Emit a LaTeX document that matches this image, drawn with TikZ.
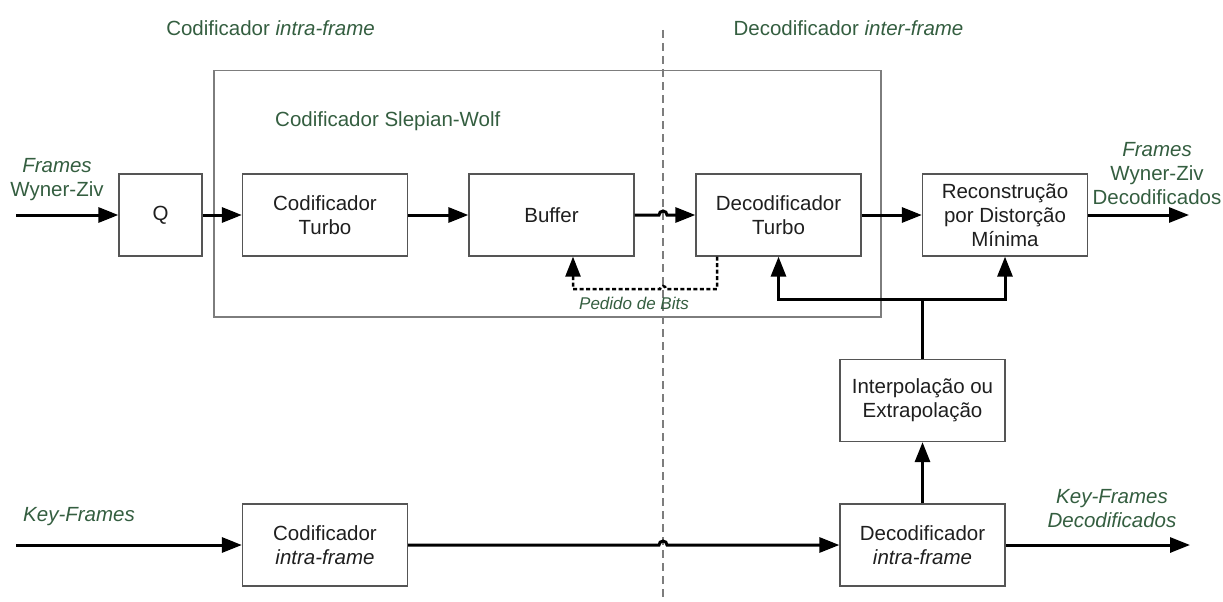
\documentclass[tikz,border=0pt]{standalone}
\usepackage{fontspec}
\setmainfont{Liberation Sans}
\usetikzlibrary{arrows.meta}
\definecolor{taggreen}{RGB}{52,94,64}
\definecolor{boxgray}{RGB}{85,85,85}
\definecolor{framegray}{RGB}{125,125,125}
\begin{document}
\begin{tikzpicture}[x=1pt,y=1pt,
  block/.style={draw=boxgray,line width=1.3pt,fill=white,minimum width=165pt,minimum height=82pt,inner sep=0pt,align=center,text=black!88,font=\fontsize{20.5}{24}\selectfont},
  swframe/.style={draw=framegray,line width=1.3pt,minimum width=667pt,minimum height=246.5pt,inner sep=0pt},
  tag/.style={inner sep=0pt,align=center,text=taggreen,font=\fontsize{20.5}{24}\selectfont},
  wire/.style={line width=3pt,black},
  feed/.style={wire,-{Triangle[length=20pt,width=15pt]}},
  request/.style={feed,line width=2.5pt,dash pattern=on 4pt off 2.5pt}
]
\useasboundingbox (0,0) rectangle (1223,-602);
\node [swframe] (SW) at (547.5,-193.75) {};
\draw [framegray,line width=1.3pt,dash pattern=on 8pt off 5pt] (663,-30) -- (663,-602);
\node [block,minimum width=83pt] (Q) at (160.5,-215) {Q};
\node [block] (CT) at (325,-215) {Codificador\\Turbo};
\node [block] (Buf) at (551.5,-215) {Buffer};
\node [block] (DT) at (778.5,-215) {Decodificador\\Turbo};
\node [block] (Rec) at (1005,-215) {Reconstrução\\por Distorção\\Mínima};
\node [block] (Interp) at (922.5,-400.5) {Interpolação ou\\Extrapolação};
\node [block] (CI) at (325,-545) {Codificador\\\textit{intra-frame}};
\node [block] (DI) at (922.5,-545) {Decodificador\\\textit{intra-frame}};
\node [tag] (tEnc) at (270.5,-28) {Codificador \textit{intra-frame}};
\node [tag] (tDec) at (848.5,-28) {Decodificador \textit{inter-frame}};
\node [tag,anchor=west] (tSW) at (275,-121) {Codificador Slepian-Wolf};
\node [tag] (tWZin) at (57,-180) {\textit{Frames}\\Wyner-Ziv};
\node [tag] (tWZout) at (1157,-174) {\textit{Frames}\\Wyner-Ziv\\Decodificados};
\node [tag,anchor=west] (tKin) at (23,-517) {\textit{Key-Frames}};
\node [tag] (tKout) at (1112,-509) {\textit{Key-Frames}\\\textit{Decodificados}};
\node [tag,font=\fontsize{17}{20}\selectfont] (tReq) at (634,-303) {\textit{Pedido de Bits}};
\coordinate (wzin) at (16,-215);
\coordinate (wzout) at (1189,-215);
\coordinate (kin) at (16,-545);
\coordinate (kout) at (1190,-545);
\coordinate (side) at (922.5,-299);
\draw [feed] (wzin) -- (Q);
\draw [feed] (Q) -- (CT);
\draw [feed] (CT) -- (Buf);
\draw [feed] (Buf.east) -- (659,-215) arc [start angle=180,end angle=0,radius=4] -- (DT.west);
\draw [feed] (DT) -- (Rec);
\draw [feed] (Rec) -- (wzout);
\draw [request] ([xshift=-61.5pt]DT.south) -- (717,-289) -- (666,-289) arc [start angle=0,end angle=180,radius=3] -- (573,-289) -- ([xshift=21.5pt]Buf.south);
\draw [wire] (Interp.north) -- (side);
\draw [feed] (side) -| (DT.south);
\draw [feed] (side) -| (Rec.south);
\draw [feed] (DI) -- (Interp);
\draw [feed] (kin) -- (CI);
\draw [feed] (CI.east) -- (659,-545) arc [start angle=180,end angle=0,radius=4] -- (DI.west);
\draw [feed] (DI) -- (kout);
\end{tikzpicture}
\end{document}
